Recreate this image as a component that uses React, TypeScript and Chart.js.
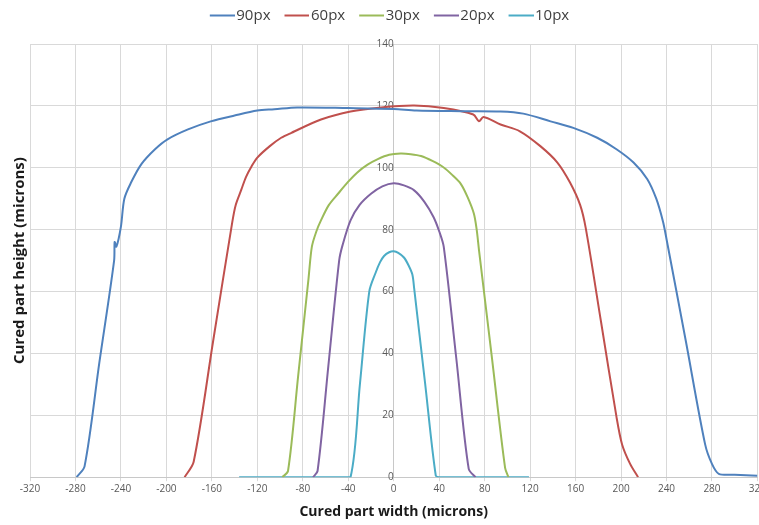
import React, { useEffect, useRef } from 'react';
import { Chart, registerables } from 'chart.js';

Chart.register(...registerables);

// ---- data ----
const seriesLabels = ['90px', '60px', '30px', '20px', '10px'];

const xTickMin = -320;
const xTickMax = 320;
const xTickStep = 40;
const yTickMin = 0;
const yTickMax = 140;
const yTickStep = 20;

const px90X = [-279, -272, -259, -246, -245.5, -244, -240, -237, -231, -222, -210, -199, -181, -161, -140, -120, -105, -85, -40, 0, 20, 60, 94, 114, 138, 158, 179, 196, 211, 223, 231, 237, 240, 257, 274, 280, 286, 300, 320];
const px90Y = [0, 3.5, 37, 70, 76, 74.5, 81, 90, 95.3, 101.2, 106, 109.2, 112.4, 115, 116.9, 118.5, 118.9, 119.5, 119.3, 119, 118.5, 118.3, 118.2, 117.5, 115, 112.9, 109.7, 106, 101.7, 96.4, 90, 82.5, 77, 44, 10.6, 4.3, 1.1, 0.8, 0.5];

const px60X = [-184, -176, -159, -142, -139, -134, -130, -125, -120, -109, -99, -90, -64, -38, -11, 18, 44, 70, 75, 79, 94, 111, 129, 144, 155, 164, 169, 182.5, 196, 201, 208, 215];
const px60Y = [0, 5, 43.7, 82.5, 88, 93, 97, 100.5, 103.3, 107, 109.7, 111.3, 115.6, 118.2, 119.5, 120.1, 119.3, 117.2, 115, 116.4, 114, 111.8, 107, 101.7, 95.3, 88, 80.4, 50, 19.5, 10.5, 4.3, 0];

const px30X = [-98, -93, -84, -75, -72, -68, -64, -57, -49, -40, -32, -23, -14, -4, 6, 15, 24, 34, 44, 52, 59, 65, 70.5, 73, 75, 86.5, 98, 101];
const px30Y = [0, 2, 33, 64, 74.5, 79.5, 83, 88, 91.6, 95.5, 98.5, 101, 102.8, 104.2, 104.6, 104.4, 103.8, 102.2, 100.1, 97.5, 94.8, 90.5, 85.2, 80, 73.5, 38.3, 3, 0];

const px20X = [-71, -67, -57.5, -48, -45, -38, -30, -20, -10, 0, 9, 18, 27, 35, 40, 44, 55, 66, 72];
const px20Y = [0, 2, 36, 70, 75, 83, 88, 91.6, 94, 95, 94.3, 92.7, 89, 84.1, 79.5, 74.5, 38.6, 2.7, 0];

const px10X = [-136, -90, -50, -38, -29.75, -21.5, -16, -12, -8.5, -4, 0, 4, 9, 13, 16.4, 18, 27.5, 37, 40, 50, 85, 119];
const px10Y = [0, 0, 0, 0, 30, 60, 66, 69.5, 71.5, 72.7, 73, 72.5, 71, 68.5, 65.5, 61, 30.7, 0.5, 0, 0, 0, 0];

const seriesX = [px90X, px60X, px30X, px20X, px10X];
const seriesY = [px90Y, px60Y, px30Y, px20Y, px10Y];

// ---- styles ----
const COLORS = ['#4F81BD', '#C0504D', '#9BBB59', '#8064A2', '#4BACC6'];
const GRID = '#d9d9d9';
const AXIS = '#c8c8c8';
const TICK_COLOR = '#595959';
const FONT = "'Open Sans', sans-serif";

export default function App() {
  const ref = useRef<HTMLCanvasElement>(null);

  useEffect(() => {
    document.documentElement.style.overflow = 'hidden';
    document.body.style.overflow = 'hidden';
    Chart.defaults.font.family = FONT;

    const mkLegendImg = (color: string) => {
      const c = document.createElement('canvas');
      c.width = 37;
      c.height = 4;
      const g = c.getContext('2d')!;
      g.strokeStyle = color;
      g.lineWidth = 2;
      g.beginPath();
      g.moveTo(12, 2);
      g.lineTo(37, 2);
      g.stroke();
      return c;
    };
    const legendImgs = COLORS.map(mkLegendImg);

    const datasets = seriesLabels.map((label, i) => ({
      label,
      data: seriesX[i].map((x, j) => ({ x, y: seriesY[i][j] })),
      showLine: true,
      borderColor: COLORS[i],
      backgroundColor: COLORS[i],
      borderWidth: 2,
      pointRadius: 0,
      pointHoverRadius: 0,
      tension: 0.3,
      borderJoinStyle: 'round' as const,
      xAxisID: 'x',
      yAxisID: 'y',
    }));

    const legendMargin = {
      id: 'legendMargin',
      beforeInit(chart: any) {
        const legend = chart.legend;
        if (!legend) return;
        const origFit = legend.fit;
        legend.fit = function () {
          origFit.call(this);
          this.height += 11;
        };
      },
    };

    const chart = new Chart(ref.current!, {
      type: 'scatter',
      data: { datasets },
      options: {
        animation: false,
        responsive: false,
        events: [],
        layout: { padding: { left: 5, right: 0, top: 0, bottom: 3 } },
        plugins: {
          tooltip: { enabled: false },
          legend: {
            position: 'top',
            labels: {
              usePointStyle: true,
              pointStyleWidth: 25,
              padding: 8,
              color: '#404040',
              font: { size: 15, family: FONT },
              generateLabels: (c: any) => {
                const items = (Chart.defaults.plugins.legend.labels as any).generateLabels(c);
                return items.map((it: any) => ({ ...it, pointStyle: legendImgs[it.datasetIndex] }));
              },
            },
          },
        },
        scales: {
          x: {
            type: 'linear',
            min: xTickMin,
            max: xTickMax,
            ticks: { stepSize: xTickStep, color: TICK_COLOR, font: { size: 10 }, padding: 2 },
            grid: { color: GRID, tickLength: 4 },
            border: { color: AXIS },
            title: {
              display: true,
              text: 'Cured part width (microns)',
              color: '#1a1a1a',
              font: { size: 14, weight: 'bold' },
              padding: { top: 6, bottom: 2 },
            },
          },
          y: {
            type: 'linear',
            position: { x: 0 } as any,
            min: yTickMin,
            max: yTickMax,
            ticks: { stepSize: yTickStep, color: TICK_COLOR, font: { size: 10 }, padding: 9 },
            grid: { color: GRID, tickLength: 4 },
            border: { color: AXIS },
          },
          y2: {
            type: 'linear',
            position: 'left',
            min: yTickMin,
            max: yTickMax,
            ticks: { display: false },
            grid: { display: false, drawTicks: false },
            border: { display: false },
            title: {
              display: true,
              text: 'Cured part height (microns)',
              color: '#1a1a1a',
              font: { size: 15, weight: 'bold' },
              padding: { top: 6, bottom: 1 },
            },
          },
        },
      } as any,
      plugins: [legendMargin],
    });
    return () => chart.destroy();
  }, []);

  return (
    <div style={{ position: 'absolute', left: 0, top: 0, width: 768, height: 525 }}>
      <canvas ref={ref} width={768} height={525} style={{ display: 'block' }} />
    </div>
  );
}
